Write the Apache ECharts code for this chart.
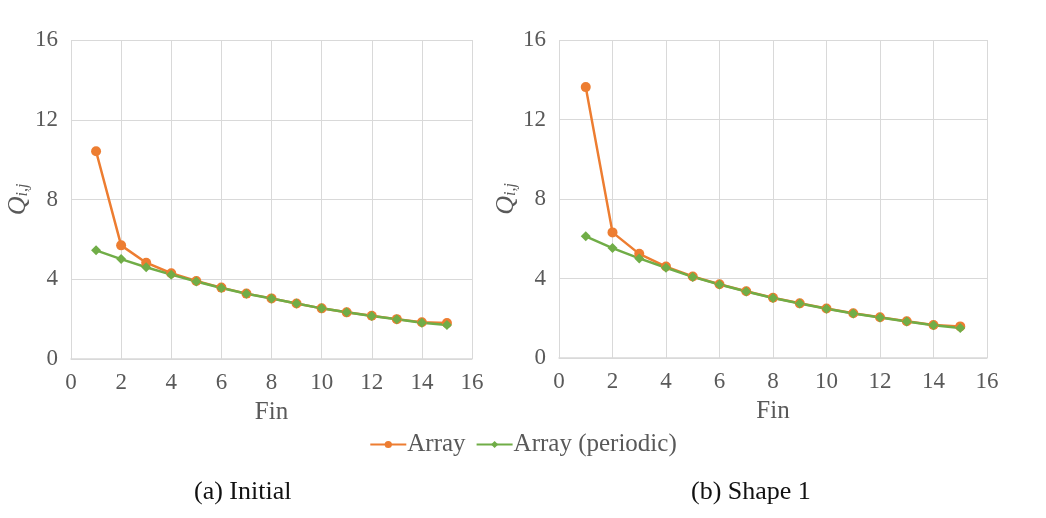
<!DOCTYPE html>
<html>
<head>
<meta charset="utf-8">
<script src="https://cdn.jsdelivr.net/npm/echarts@6/dist/echarts.min.js"></script>
<style>
html,body{margin:0;padding:0;background:#fff;}
#c{width:1046px;height:518px;}
</style>
</head>
<body>
<div id="c"></div>
<script>
// Data
var fins = [1,2,3,4,5,6,7,8,9,10,11,12,13,14,15];
var initialArray = [10.42,5.70,4.83,4.30,3.91,3.58,3.28,3.04,2.78,2.54,2.34,2.17,2.00,1.84,1.80];
var initialPeriodic = [5.45,5.01,4.60,4.23,3.89,3.56,3.27,3.03,2.78,2.54,2.34,2.16,1.99,1.82,1.70];
var shape1Array = [13.63,6.32,5.24,4.60,4.10,3.71,3.36,3.03,2.75,2.49,2.25,2.05,1.85,1.66,1.59];
var shape1Periodic = [6.12,5.53,5.01,4.54,4.08,3.70,3.35,3.02,2.74,2.48,2.24,2.04,1.84,1.65,1.51];
var axisTicks = [0,2,4,6,8,10,12,14,16];
var yTicks = [0,4,8,12,16];
var seriesNames = ['Array','Array (periodic)'];
var captions = ['(a) Initial','(b) Shape 1'];

function pairs(xs, ys){ return xs.map(function(x,i){ return [x, ys[i]]; }); }

var FONT = '"Liberation Serif", "DejaVu Serif", serif';
var TXT = '#595959';
var GRID = '#d9d9d9';
var ORANGE = '#ED7D31';
var GREEN = '#70AD47';

function xAxis(idx){
  return {
    type:'value', gridIndex:idx, min:axisTicks[0], max:axisTicks[axisTicks.length-1], interval:2,
    name:'Fin', nameLocation:'middle', nameGap:41,
    nameTextStyle:{fontFamily:FONT, fontSize:25, color:TXT},
    axisLine:{show:true, lineStyle:{color:GRID, width:1.5}},
    axisTick:{show:false},
    axisLabel:{fontFamily:FONT, fontSize:23, color:TXT, margin:12},
    splitLine:{show:true, lineStyle:{color:GRID, width:1}}
  };
}
function yAxis(idx){
  return {
    type:'value', gridIndex:idx, min:yTicks[0], max:yTicks[yTicks.length-1], interval:4,
    name:'{q|Q}{s|i,j}', nameLocation:'middle', nameRotate:90, nameGap:32,
    nameTextStyle:{
      color:TXT,
      rich:{
        q:{fontFamily:FONT, fontStyle:'italic', fontSize:26, color:TXT},
        s:{fontFamily:FONT, fontStyle:'italic', fontSize:16, color:TXT, verticalAlign:'bottom', padding:[10,0,0,0]}
      }
    },
    axisLine:{show:false},
    axisTick:{show:false},
    axisLabel:{fontFamily:FONT, fontSize:23, color:TXT, margin:13},
    splitLine:{show:true, lineStyle:{color:GRID, width:1}}
  };
}
function lineSeries(name, idx, data, color, symbol, size){
  return {
    name:name, type:'line', xAxisIndex:idx, yAxisIndex:idx,
    data:pairs(fins, data),
    symbol:symbol, symbolSize:size, showSymbol:true,
    lineStyle:{color:color, width:2.5},
    itemStyle:{color:color},
    emphasis:{disabled:true},
    animation:false
  };
}

var chart = echarts.init(document.getElementById('c'), null, {renderer:'canvas'});
chart.setOption({
  backgroundColor:'#fff',
  animation:false,
  grid:[
    {left:71, top:40, width:401, height:319},
    {left:559, top:40, width:428, height:318}
  ],
  xAxis:[xAxis(0), xAxis(1)],
  yAxis:[yAxis(0), yAxis(1)],
  legend:{
    data:seriesNames, left:'center', top:427,
    itemWidth:36, itemHeight:9, itemGap:10,
    textStyle:{fontFamily:FONT, fontSize:25, color:TXT, padding:[0,0,0,-4]}
  },
  graphic:[
    {type:'text', left:194, top:479, style:{text:captions[0], fontFamily:FONT, fontSize:26, fill:'#111'}},
    {type:'text', left:691, top:479, style:{text:captions[1], fontFamily:FONT, fontSize:26, fill:'#111'}}
  ],
  series:[
    lineSeries(seriesNames[0], 0, initialArray, ORANGE, 'circle', 10),
    lineSeries(seriesNames[1], 0, initialPeriodic, GREEN, 'diamond', 10),
    lineSeries(seriesNames[0], 1, shape1Array, ORANGE, 'circle', 10),
    lineSeries(seriesNames[1], 1, shape1Periodic, GREEN, 'diamond', 10)
  ]
});
</script>
</body>
</html>
